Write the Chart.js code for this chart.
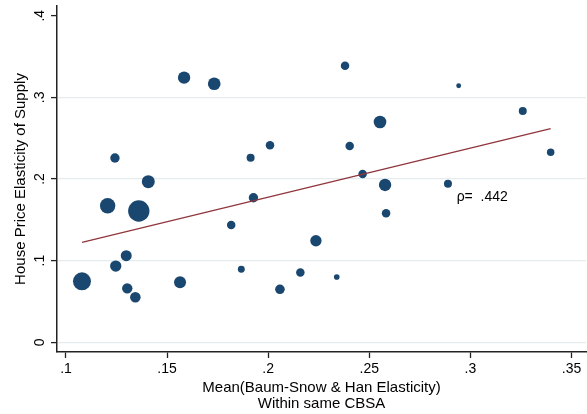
<!DOCTYPE html>
<html>
<head>
<meta charset="utf-8">
<script src="https://cdn.jsdelivr.net/npm/chart.js@4/dist/chart.umd.min.js"></script>
<style>
  html, body { margin: 0; padding: 0; background: #ffffff; }
  #wrap { width: 587px; height: 414px; }
</style>
</head>
<body>
<div id="wrap"><canvas id="c" width="587" height="414"></canvas></div>
<script>
// Mean Baum-Snow & Han elasticity within the CBSA (x), house price elasticity of supply (y),
// and the weight of each CBSA (marker area is proportional to it).
const meanBshElasticity = [
  0.1079, 0.1206, 0.1360, 0.1242, 0.1407, 0.1298, 0.1246, 0.1303, 0.1343, 0.1564,
  0.1584, 0.1733, 0.1913, 0.2009, 0.1927, 0.1817, 0.2236, 0.1867, 0.2058, 0.2159,
  0.2339, 0.2583, 0.2380, 0.2942, 0.2553, 0.2403, 0.2467, 0.2578, 0.2889, 0.3259,
  0.3397
];
const supplyElasticity = [
  0.0747, 0.1673, 0.1608, 0.2257, 0.1967, 0.1061, 0.0934, 0.0661, 0.0551, 0.0735,
  0.3241, 0.3167, 0.2261, 0.2413, 0.1771, 0.1437, 0.1244, 0.0894, 0.0649, 0.0855,
  0.0800, 0.1580, 0.3388, 0.3143, 0.2698, 0.2404, 0.2061, 0.1927, 0.1942, 0.2833,
  0.2327
];
const cbsaWeights = [
  81, 59, 114, 22, 42, 30, 32, 27, 28, 36,
  38, 40, 16, 18, 22, 18, 32, 12, 23, 18,
  8, 18, 18, 6, 40, 18, 18, 38, 16, 16,
  14
];

// Linear fit, evaluated at the smallest and largest x.
const fitX = [0.1079, 0.3397];
const fitY = [0.1225, 0.2616];

// Correlation label and where it sits (data coordinates).
const rhoLabel = 'ρ=  .442';
const rhoAt = [0.2932, 0.178];

// Axis ticks.
const xTicks = [0.1, 0.15, 0.2, 0.25, 0.3, 0.35];
const yTicks = [0, 0.1, 0.2, 0.3, 0.4];

const FONT = '"Liberation Sans", Arial, Helvetica, sans-serif';
const NAVY = '#1a476f';
const MAROON = '#90353b';
const AXIS = '#222222';
const GRID = '#e4ecee';

const fmt = v => (v === 0 ? '0' : String(v).replace(/^0/, ''));

const bubbles = meanBshElasticity.map((x, i) => ({
  x: x,
  y: supplyElasticity[i],
  r: Math.sqrt(cbsaWeights[i])
}));
const fitLine = fitX.map((x, i) => ({ x: x, y: fitY[i] }));

const rhoText = {
  id: 'rhoText',
  afterDatasetsDraw(chart) {
    const { ctx, scales } = chart;
    ctx.save();
    ctx.font = '14px ' + FONT;
    ctx.fillStyle = '#000000';
    ctx.textAlign = 'left';
    ctx.textBaseline = 'middle';
    ctx.fillText(rhoLabel, scales.x.getPixelForValue(rhoAt[0]), scales.y.getPixelForValue(rhoAt[1]));
    ctx.restore();
  }
};

// Fixed axis boxes so the plot area does not shrink for label overhang.
const fixBox = (w, h) => s => {
  if (w !== null) s.width = w;
  if (h !== null) s.height = h;
  s.paddingLeft = 0;
  s.paddingRight = 0;
  s.paddingTop = 0;
  s.paddingBottom = 0;
};

new Chart(document.getElementById('c'), {
  type: 'bubble',
  data: {
    datasets: [
      {
        type: 'line',
        data: fitLine,
        borderColor: MAROON,
        borderWidth: 1.3,
        pointRadius: 0,
        fill: false,
        tension: 0,
        order: 0
      },
      {
        type: 'bubble',
        data: bubbles,
        backgroundColor: NAVY,
        borderWidth: 0,
        order: 1
      }
    ]
  },
  options: {
    responsive: false,
    animation: false,
    events: [],
    layout: { autoPadding: false, padding: { top: 6, right: 1, left: 0, bottom: 0 } },
    plugins: {
      legend: { display: false },
      tooltip: { enabled: false }
    },
    scales: {
      x: {
        type: 'linear',
        min: 0.09555,
        max: 0.35717,
        afterFit: fixBox(null, 62),
        afterBuildTicks: s => { s.ticks = xTicks.map(v => ({ value: v })); },
        border: { display: true, color: AXIS, width: 1.5 },
        grid: { drawOnChartArea: false, drawTicks: true, tickLength: 6, tickColor: AXIS, tickWidth: 1.3 },
        ticks: {
          callback: v => fmt(v),
          color: '#000000',
          font: { family: FONT, size: 14 },
          padding: 3,
          maxRotation: 0,
          minRotation: 0
        },
        title: {
          display: true,
          text: ['Mean(Baum-Snow & Han Elasticity)', 'Within same CBSA'],
          color: '#000000',
          font: { family: FONT, size: 15, lineHeight: 1.1 },
          padding: { top: 0, bottom: 1.75 }
        }
      },
      y: {
        type: 'linear',
        min: -0.01188,
        max: 0.4119,
        afterFit: fixBox(57, null),
        afterBuildTicks: s => { s.ticks = yTicks.map(v => ({ value: v })); },
        border: { display: true, color: AXIS, width: 1.5 },
        grid: {
          drawOnChartArea: true,
          drawTicks: true,
          tickLength: 6,
          tickColor: AXIS,
          tickWidth: 1.3,
          lineWidth: 1.2,
          color: c => (c.tick && c.tick.value === 0.4 ? 'rgba(0,0,0,0)' : GRID)
        },
        ticks: {
          callback: v => fmt(v),
          color: '#000000',
          font: { family: FONT, size: 14 },
          padding: 5.5,
          crossAlign: 'center',
          minRotation: 90,
          maxRotation: 90
        },
        title: {
          display: true,
          text: 'House Price Elasticity of Supply',
          color: '#000000',
          font: { family: FONT, size: 15, lineHeight: 1.1 },
          padding: { top: 12.5, bottom: 0 }
        }
      }
    }
  },
  plugins: [rhoText]
});
</script>
</body>
</html>
